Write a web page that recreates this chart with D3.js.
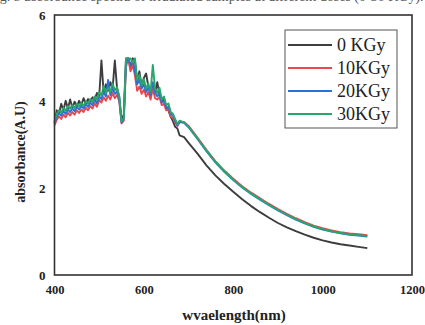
<!DOCTYPE html>
<html><head><meta charset="utf-8">
<script src="https://cdn.jsdelivr.net/npm/d3@7"></script>
<style>html,body{margin:0;padding:0;background:#fff;}svg{display:block;}</style>
</head><body>
<script>
const wavelengths = [400,405,410,415,420,425,430,435,440,445,450,455,460,465,470,475,480,485,490,495,500,505,510,515,520,525,530,535,540,545,550,555,560,565,570,575,580,585,590,595,600,605,610,615,620,625,630,635,640,645,650,655,660,665,670,675,680,690,700,720,740,760,780,800,820,840,860,880,900,920,940,960,980,1000,1020,1040,1060,1080,1100];
const abs0 = [3.50,3.80,3.72,3.95,3.80,4.02,3.84,4.05,3.86,4.00,3.88,4.02,3.92,4.08,3.95,4.06,4.00,4.10,4.05,4.20,4.12,4.95,4.20,4.40,4.25,4.45,4.30,4.95,4.30,4.10,3.58,3.70,5.00,5.00,4.80,5.00,4.95,4.45,4.70,4.35,4.55,4.65,4.35,4.25,4.40,4.20,4.45,4.15,4.00,4.05,3.85,3.80,3.65,3.55,3.42,3.38,3.22,3.18,3.05,2.80,2.53,2.30,2.10,1.92,1.75,1.59,1.45,1.32,1.20,1.10,1.01,0.93,0.86,0.80,0.75,0.71,0.68,0.65,0.62];
const abs10 = [3.45,3.58,3.66,3.60,3.70,3.64,3.74,3.68,3.76,3.70,3.80,3.74,3.82,3.76,3.86,3.80,3.90,3.84,3.96,3.88,4.04,3.98,4.10,4.02,4.14,4.05,4.20,4.08,4.16,4.00,3.50,3.56,4.80,5.00,4.70,4.85,4.60,4.25,4.35,4.18,4.28,4.12,4.22,4.05,4.30,4.08,4.05,4.10,3.92,3.95,3.80,3.82,3.66,3.62,3.52,3.44,3.52,3.53,3.44,3.17,2.89,2.63,2.41,2.22,2.05,1.90,1.77,1.64,1.52,1.41,1.31,1.22,1.14,1.08,1.03,0.99,0.96,0.94,0.92];
const abs20 = [3.50,3.64,3.73,3.68,3.78,3.72,3.82,3.76,3.84,3.78,3.88,3.82,3.90,3.84,3.94,3.88,3.98,3.92,4.04,3.96,4.12,4.06,4.22,4.12,4.50,4.15,4.30,4.18,4.24,4.05,3.52,3.60,4.90,5.00,4.85,4.95,4.70,4.40,4.50,4.30,4.40,4.22,4.32,4.15,4.45,4.20,4.12,4.20,3.98,4.02,3.86,3.88,3.72,3.68,3.56,3.46,3.54,3.51,3.41,3.14,2.86,2.60,2.38,2.19,2.02,1.87,1.74,1.61,1.49,1.38,1.28,1.19,1.11,1.05,1.00,0.96,0.93,0.91,0.89];
const abs30 = [3.55,3.72,3.80,3.74,3.86,3.79,3.90,3.84,3.92,3.85,3.96,3.89,3.97,3.90,4.02,3.95,4.06,3.99,4.12,4.04,4.22,4.14,4.36,4.20,4.32,4.22,4.42,4.26,4.34,4.12,3.55,3.62,5.00,5.00,5.00,4.90,5.00,4.50,4.62,4.38,4.52,4.30,4.42,4.22,4.85,4.30,4.20,4.32,4.05,4.12,3.92,3.96,3.76,3.72,3.60,3.48,3.56,3.52,3.42,3.15,2.87,2.61,2.39,2.20,2.03,1.88,1.75,1.62,1.50,1.39,1.29,1.20,1.12,1.06,1.01,0.97,0.94,0.92,0.90];
const seriesNames = ["0 KGy","10KGy","20KGy","30KGy"];
const seriesColors = ["#3d3d3d","#e8484f","#2f70d8","#2aa56b"];
const xTicks = [400,600,800,1000,1200];
const yTicks = [0,2,4,6];

const W = 425, H = 325;
const svg = d3.select("body").append("svg").attr("width", W).attr("height", H);
const x = d3.scaleLinear().domain([400,1200]).range([54.5,412]);
const y = d3.scaleLinear().domain([0,6]).range([275,15]);
const serif = "'Liberation Serif','Times New Roman',serif";

// caption cut off at the top edge, as in the source
svg.append("text").attr("x", -12).attr("y", 1).attr("font-family", serif).attr("font-size", 14).attr("fill", "#555")
  .text("Fig. 5 absorbance spectra of irradiated samples at different doses (0-30 KGy).");

const allSeries = [abs0, abs10, abs20, abs30];
const line = d3.line().x((d,i) => x(wavelengths[i])).y(d => y(d));
allSeries.forEach((vals, k) => {
  svg.append("path").datum(vals).attr("d", line).attr("fill", "none")
    .attr("stroke", seriesColors[k]).attr("stroke-width", 1.9).attr("stroke-linejoin", "round");
});

// frame
svg.append("rect").attr("x", 54.5).attr("y", 15).attr("width", 412-54.5).attr("height", 260)
  .attr("fill", "none").attr("stroke", "#333").attr("stroke-width", 1.6);

// axes (labels only)
const xAxis = d3.axisBottom(x).tickValues(xTicks).tickFormat(d3.format("d")).tickSize(0).tickPadding(10);
const gx = svg.append("g").attr("transform", "translate(0,275)").call(xAxis);
gx.select(".domain").remove();
gx.selectAll("text").attr("font-family", serif).attr("font-size", 12.5).attr("font-weight", "bold").attr("fill", "#222");
gx.selectAll(".tick").filter(d => d === 1200).select("text").attr("text-anchor", "end").attr("dx", 12.5);
const yAxis = d3.axisLeft(y).tickValues(yTicks).tickFormat(d3.format("d")).tickSize(0).tickPadding(9);
const gy = svg.append("g").attr("transform", "translate(54.5,0)").call(yAxis);
gy.select(".domain").remove();
gy.selectAll("text").attr("font-family", serif).attr("font-size", 13).attr("font-weight", "bold").attr("fill", "#222");

// axis titles
svg.append("text").attr("x", 234).attr("y", 320).attr("text-anchor", "middle")
  .attr("font-family", serif).attr("font-size", 15).attr("font-weight", "bold").attr("fill", "#222")
  .text("wvaelength(nm)");
svg.append("text").attr("transform", "translate(25,152) rotate(-90)").attr("text-anchor", "middle")
  .attr("font-family", serif).attr("font-size", 14).attr("font-weight", "bold").attr("fill", "#222")
  .text("absorbance(A.U)");

// legend
const lg = svg.append("g");
lg.append("rect").attr("x", 285).attr("y", 30).attr("width", 112).attr("height", 98)
  .attr("fill", "#fff").attr("stroke", "#555").attr("stroke-width", 1);
seriesNames.forEach((name, k) => {
  const cy = 45 + k * 23;
  lg.append("line").attr("x1", 288).attr("x2", 332).attr("y1", cy).attr("y2", cy)
    .attr("stroke", seriesColors[k]).attr("stroke-width", 2);
  lg.append("text").attr("x", 337).attr("y", cy + 6).attr("font-family", serif).attr("font-size", 18)
    .attr("fill", "#222").text(name);
});
</script>
</body></html>
